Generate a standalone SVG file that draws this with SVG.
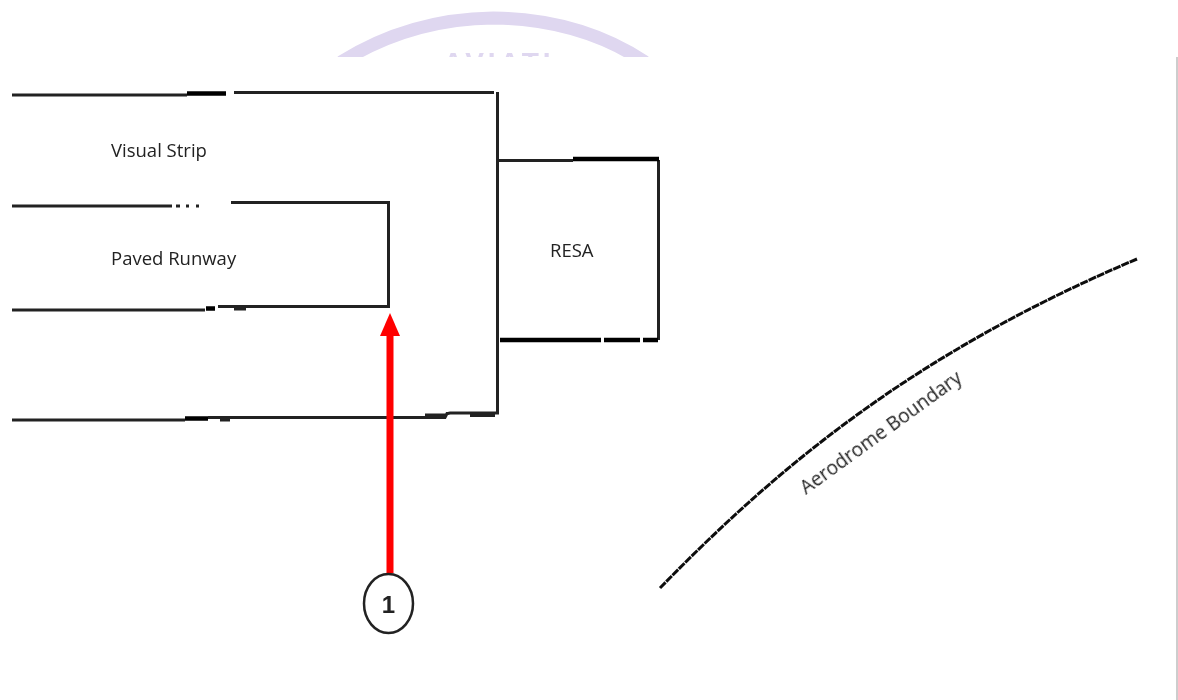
<svg xmlns="http://www.w3.org/2000/svg" width="1178" height="700" viewBox="0 0 1178 700">
<defs>
<clipPath id="wm"><rect x="300" y="0" width="400" height="57"/></clipPath>
<filter id="soft" x="-20%" y="-20%" width="140%" height="140%"><feGaussianBlur stdDeviation="0.7"/></filter>
</defs>
<style>
.l{fill:none;stroke:#222;stroke-width:3}
.t{font-family:"Open Sans","Liberation Sans",sans-serif;font-size:18.5px;fill:#222;filter:url(#soft)}
.b{fill:none;stroke:#000;stroke-width:4.5}
</style>
<rect width="1178" height="700" fill="#fff"/>
<g id="watermark" clip-path="url(#wm)">
<g filter="url(#soft)">
<path d="M341 62Q410 19 493 18Q580 19 645 62" fill="none" stroke="#dfd7f0" stroke-width="13"/>
<text x="443" y="72" font-family="Liberation Sans,sans-serif" font-size="28" font-weight="bold" fill="#dfd7f0" letter-spacing="4">AVIATI</text>
</g>
</g>
<path d="M1177 57V700" stroke="#bdbdbd" stroke-width="1.500"/>
<g id="connectors">
<g filter="url(#soft)">
<path class="l" d="M12 95H187M234 92.500H494M497.500 92V413H450L448 413.500H447L445 417.500H208M185 420H12M220 420H230M425 415H447M470 415.500H495"/>
<path class="l" d="M12 206H172M176 206H180M186 206H189M196 206H199M231 202.500H388.500V306.500H218M205 310H12M234 309H246"/>
<path class="l" d="M498 160.500H573M658.500 160V340"/>
<path class="b" d="M187 93.500H226M185 418.500H208M573 159H659M500 340H601M604 340H640M643 340H658M206 308.500H215"/>
<path fill="none" stroke="#111" stroke-width="3" stroke-dasharray="8 1" d="M660 588C775 470 910 355 1137 259"/>
</g>
<g filter="url(#soft)">
<rect x="386.500" y="330" width="7" height="243" fill="#ff0000"/>
<polygon points="390,313 400,336 380,336" fill="#ff0000"/>
</g>
</g>
<g id="visual-strip"><text class="t" x="111" y="157">Visual Strip</text></g>
<g id="paved-runway"><text class="t" x="111" y="265">Paved Runway</text></g>
<g id="resa"><text class="t" x="550" y="257">RESA</text></g>
<g id="aerodrome-boundary"><text class="t" style="font-size:19.2px" transform="translate(806 495) rotate(-36)">Aerodrome Boundary</text></g>
<g id="callout-1">
<g filter="url(#soft)">
<ellipse cx="388.500" cy="603.500" rx="24.500" ry="29.500" fill="#fff" stroke="#222" stroke-width="2.500"/>
<text x="388.500" y="613" text-anchor="middle" font-family="Liberation Sans,sans-serif" font-size="24" font-weight="bold" fill="#222">1</text>
</g>
</g>
</svg>
